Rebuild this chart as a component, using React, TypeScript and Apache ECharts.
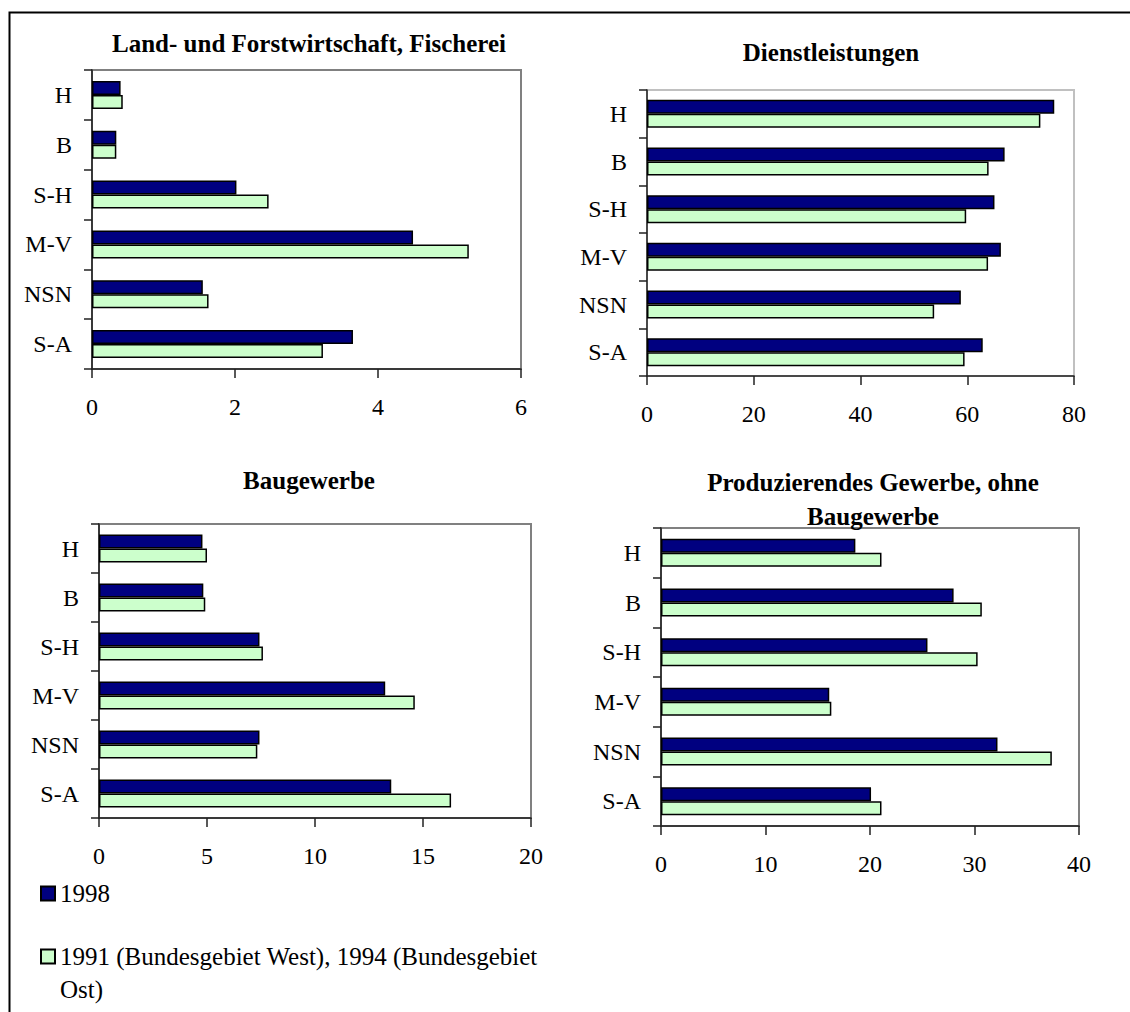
import React, { useEffect, useRef } from 'react';
import * as echarts from 'echarts';

// ---- data ----
const categories = ['H', 'B', 'S-H', 'M-V', 'NSN', 'S-A'];
const seriesNames = ['1998', '1991 (Bundesgebiet West), 1994 (Bundesgebiet Ost)'];
const panelTitles = [
  'Land- und Forstwirtschaft, Fischerei',
  'Dienstleistungen',
  'Baugewerbe',
  'Produzierendes Gewerbe, ohne\nBaugewerbe',
];
const land1998 = [0.40, 0.34, 2.02, 4.49, 1.55, 3.65];
const landBase = [0.43, 0.34, 2.47, 5.27, 1.63, 3.23];
const dienst1998 = [76.3, 67.0, 65.1, 66.3, 58.8, 62.9];
const dienstBase = [73.7, 64.0, 59.8, 63.9, 53.8, 59.5];
const bau1998 = [4.79, 4.83, 7.43, 13.25, 7.43, 13.53];
const bauBase = [5.0, 4.92, 7.59, 14.62, 7.33, 16.3];
const prod1998 = [18.6, 28.0, 25.5, 16.1, 32.2, 20.1];
const prodBase = [21.1, 30.7, 30.3, 16.3, 37.4, 21.1];
const axisMax = [6, 80, 20, 40];
const axisInterval = [2, 20, 5, 10];

// ---- layout / style ----
const FONT = "'Liberation Serif', 'Times New Roman', serif";
const DARK = '#000080';
const LIGHT = '#CCFFCC';
const gridBoxes = [
  { left: 92, top: 70, width: 429, height: 299, border: '#808080' },
  { left: 647, top: 90, width: 427, height: 286, border: '#c0c0c0' },
  { left: 99, top: 524, width: 432, height: 294, border: '#808080' },
  { left: 661, top: 528, width: 418, height: 298, border: '#808080' },
];
const titlePos = [
  [309, 43],
  [831, 52],
  [309, 480],
  [873, 499],
];

export default function App() {
  const ref = useRef<HTMLDivElement>(null);
  useEffect(() => {
    if (!ref.current) return;
    const chart = echarts.init(ref.current, undefined, { renderer: 'svg' });
    const panels = [
      [land1998, landBase],
      [dienst1998, dienstBase],
      [bau1998, bauBase],
      [prod1998, prodBase],
    ];
    const series: any[] = [];
    panels.forEach((p, i) => {
      p.forEach((vals, s) => {
        series.push({
          type: 'bar',
          name: seriesNames[s],
          xAxisIndex: i,
          yAxisIndex: i,
          data: vals,
          barWidth: 14,
          barGap: '0%',
          itemStyle: {
            color: s === 0 ? DARK : LIGHT,
            borderColor: '#000',
            borderWidth: 1.5,
          },
        });
      });
    });
    const legendText = { fontFamily: FONT, fontSize: 25, color: '#000', lineHeight: 33 };
    const option: any = {
      animation: false,
      backgroundColor: '#fff',
      textStyle: { fontFamily: FONT },
      title: panelTitles.map((t, i) => ({
        text: t,
        left: titlePos[i][0],
        top: titlePos[i][1],
        textAlign: 'center',
        textVerticalAlign: 'middle',
        padding: 0,
        textStyle: {
          fontFamily: FONT,
          fontSize: 25,
          fontWeight: 'bold',
          color: '#000',
          lineHeight: 34,
        },
      })),
      grid: gridBoxes.map((g) => ({
        left: g.left,
        top: g.top,
        width: g.width,
        height: g.height,
        show: true,
        borderColor: g.border,
        borderWidth: 2,
        backgroundColor: 'transparent',
        containLabel: false,
      })),
      xAxis: gridBoxes.map((_, i) => ({
        type: 'value',
        gridIndex: i,
        min: 0,
        max: axisMax[i],
        interval: axisInterval[i],
        splitLine: { show: false },
        axisLine: { show: true, lineStyle: { color: '#222', width: 1.5 } },
        axisTick: { show: true, length: 9, lineStyle: { color: '#222', width: 1.5 } },
        axisLabel: { fontFamily: FONT, fontSize: 24, color: '#000', margin: 26 },
      })),
      yAxis: gridBoxes.map((_, i) => ({
        type: 'category',
        gridIndex: i,
        data: categories,
        inverse: true,
        axisLine: { show: true, lineStyle: { color: '#222', width: 1.5 } },
        axisTick: { show: true, length: 8, lineStyle: { color: '#222', width: 1.5 } },
        axisLabel: { fontFamily: FONT, fontSize: 24, color: '#000', margin: 20 },
      })),
      legend: [
        {
          data: [seriesNames[0]],
          orient: 'vertical',
          left: 40,
          top: 877,
          padding: 0,
          icon: 'rect',
          itemWidth: 14,
          itemHeight: 14,
          textStyle: legendText,
        },
        {
          data: [seriesNames[1]],
          orient: 'vertical',
          left: 40,
          top: 907,
          padding: 0,
          icon: 'rect',
          itemWidth: 14,
          itemHeight: 14,
          formatter: (n: string) => '\n' + n.replace('Bundesgebiet Ost', 'Bundesgebiet\nOst'),
          textStyle: legendText,
        },
      ],
      graphic: [
        {
          type: 'rect',
          left: 7,
          top: 10,
          shape: { x: 0, y: 0, width: 1300, height: 1200 },
          style: { fill: 'none', stroke: '#000', lineWidth: 2 },
          silent: true,
          z: 100,
        },
      ],
      series,
    };
    chart.setOption(option);
    return () => chart.dispose();
  }, []);
  return (
    <div
      ref={ref}
      style={{ position: 'fixed', left: 0, top: 0, width: 1130, height: 1012, background: '#fff' }}
    />
  );
}
